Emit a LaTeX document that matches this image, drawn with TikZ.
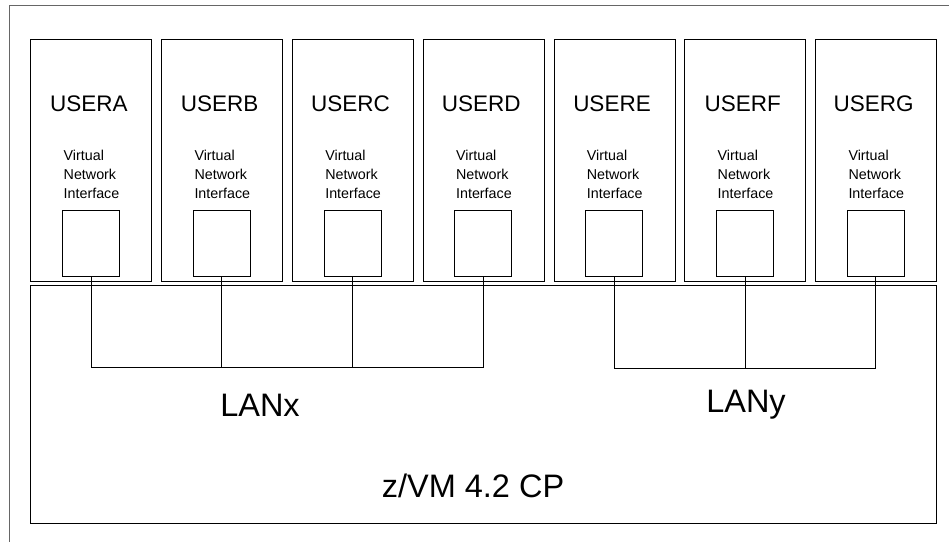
\documentclass[tikz,border=0pt]{standalone}
\usepackage{fontspec}
\setmainfont{Liberation Sans}
\begin{document}
\begin{tikzpicture}[x=1pt,y=-1pt,
  userbox/.style={draw, line width=1pt, minimum width=121pt, minimum height=242pt, inner sep=0pt},
  nicbox/.style={draw, line width=1pt, minimum width=57pt, minimum height=65.6pt, inner sep=0pt},
  userlbl/.style={anchor=base, inner sep=0pt, font=\fontsize{22.5}{27}\selectfont},
  vnilbl/.style={anchor=north west, inner sep=0pt, align=left, font=\fontsize{14.3}{19}\selectfont},
  biglbl/.style={anchor=base, inner sep=0pt, font=\fontsize{32.5}{39}\selectfont},
  lan/.style={line width=1pt}]
\useasboundingbox (0,0) rectangle (949,541);
% outer frame (cut off at right and bottom)
\draw[gray!80!black, line width=0.8pt] (9,545) -- (9,5) -- (953,5);
% CP box
\node[draw, line width=1pt, minimum width=906pt, minimum height=238.5pt, inner sep=0pt] (cp) at (483.5,404.25) {};
% user boxes
\foreach \n [count=\i from 0] in {A,B,C,D,E,F,G} {
  \pgfmathsetmacro{\xl}{30.8+130.8*\i}
  \node[userbox] (user\n) at (\xl+60.5,160.5) {};
  \node[userlbl] (name\n) at (\xl+58,111) {USER\n};
  \node[nicbox] (nic\n) at (\xl+60.2,243.5) {};
  \node[vnilbl] (vni\n) at (\xl+32.7,150.2) {Virtual\\Network\\Interface};
}
% LAN coordinates
\coordinate (lanx) at (0,367.7);
\coordinate (lany) at (0,368.5);
% LANx
\draw[lan] (nicA.south) -- (nicA.south |- lanx) -- (nicD.south |- lanx) -- (nicD.south);
\draw[lan] (nicB.south) -- (nicB.south |- lanx);
\draw[lan] (nicC.south) -- (nicC.south |- lanx);
% LANy
\draw[lan] (nicE.south) -- (nicE.south |- lany) -- (nicG.south |- lany) -- (nicG.south);
\draw[lan] (nicF.south) -- (nicF.south |- lany);
% labels
\node[biglbl] (lanxlbl) at (260,416.7) {LANx};
\node[biglbl] (lanylbl) at (746,412) {LANy};
\node[biglbl] (cplbl) at (473,497.3) {z/VM 4.2 CP};
\end{tikzpicture}
\end{document}
